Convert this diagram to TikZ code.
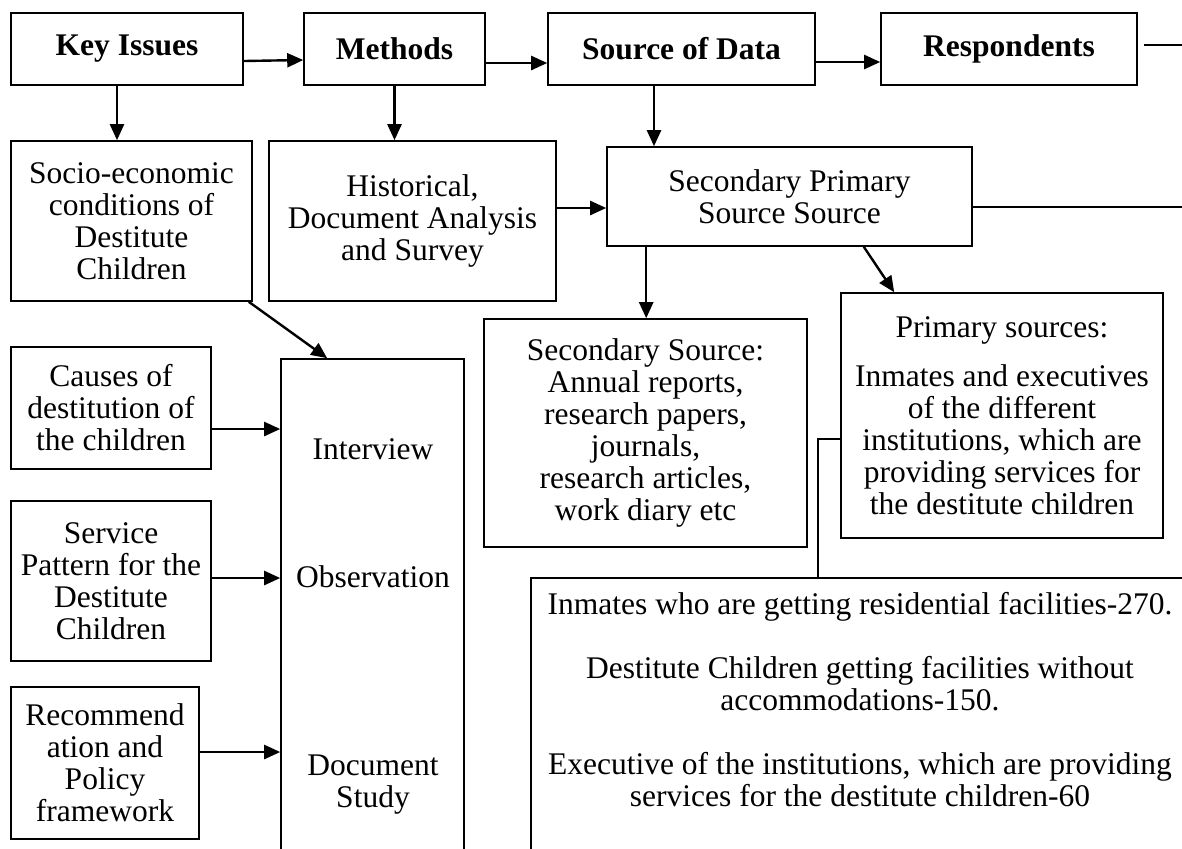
\documentclass[tikz,border=0pt]{standalone}
\usepackage{fontspec}
\setmainfont{Liberation Serif}
\usetikzlibrary{arrows.meta}

\begin{document}
\begin{tikzpicture}[
    x=0.5pt, y=-0.5pt,
    >={Triangle[length=8pt,width=7pt]},
    every node/.style={font=\fontsize{15.75pt}{16pt}\selectfont},
    box/.style={draw, line width=0.8pt, rectangle, align=center, inner sep=2pt},
    head/.style={box, minimum height=36pt, font=\fontsize{15.75pt}{16pt}\selectfont\bfseries},
    link/.style={->, line width=1.2pt},
    plain/.style={line width=0.8pt},
]
\useasboundingbox (0,0) rectangle (1182,848);

% Top row
\node[head, minimum width=116pt] (keyiss) at (127,49) {Key Issues};
\node[head, minimum width=90.5pt] (methods) at (394.5,49) {Methods};
\node[head, minimum width=133.5pt] (source) at (681.5,49) {Source of Data};
\node[head, minimum width=128pt] (resp) at (1009,49) {Respondents};

% Second row
\node[box, minimum width=120.5pt, minimum height=80pt] (socio) at (131.5,221) {Socio-economic\\conditions of\\Destitute\\Children};
\node[box, minimum width=143.5pt, minimum height=80pt] (hist) at (412.5,221) {Historical,\\Document Analysis\\and Survey};
\node[box, minimum width=182.5pt, minimum height=49.5pt] (secpri) at (789.5,196.5) {Secondary Primary\\Source Source};

% Sources
\node[box, minimum width=161.5pt, minimum height=114pt] (secsrc) at (645.5,433) {Secondary Source:\\Annual reports,\\research papers,\\journals,\\research articles,\\work diary etc};
\node[box, minimum width=161pt, minimum height=122.5pt] (prim) at (1002,415.5) {Primary sources:\\[8.5pt]Inmates and executives\\of the different\\institutions, which are\\providing services for\\the destitute children};

% Tools column
\node[box, minimum width=91.5pt, minimum height=261pt] (tools) at (372.5,620) {};
\node (intv) at (373,449) {Interview};
\node (obsv) at (373,577) {Observation};
\node[align=center] (docst) at (373,785) {Document\\Study};

% Objectives
\node[box, minimum width=100pt, minimum height=61pt] (causes) at (111,408) {Causes of\\destitution of\\the children};
\node[box, minimum width=100pt, minimum height=80pt] (service) at (111,581) {Service\\Pattern for the\\Destitute\\Children};
\node[box, minimum width=94pt, minimum height=76pt] (recom) at (105,763) {Recommend\\ation and\\Policy\\framework};

% Respondent numbers
\node[box, minimum width=329pt, minimum height=152pt] (sample) at (860,730) {};
\node[align=center, inner sep=0pt, anchor=north] (sampletxt) at ([yshift=-7.5pt]sample.north) {Inmates who are getting residential facilities-270.\\[16pt]Destitute Children getting facilities without\\accommodations-150.\\[16pt]Executive of the institutions, which are providing\\services for the destitute children-60};

% Free ends at the right edge
\coordinate (respend) at (1190,45);
\coordinate (secend) at (1190,207);

% Arrows
\draw[link] ([yshift=-6pt]keyiss.east) -- ([yshift=-5.5pt]methods.west);
\draw[link] ([yshift=-7pt]methods.east) -- ([yshift=-7pt]source.west);
\draw[link] ([yshift=-6.5pt]source.east) -- ([yshift=-6.5pt]resp.west);
\draw[plain] ([xshift=3pt,yshift=2pt]resp.east) -- (respend);
\draw[link] ([xshift=-5pt]keyiss.south) -- ([xshift=-5pt]keyiss.south |- socio.north);
\draw[link] (methods.south) -- (methods.south |- hist.north);
\draw[link] ([xshift=-13.75pt]source.south) -- ([xshift=-13.75pt]source.south |- secpri.north);
\draw[link] ([yshift=6.5pt]hist.east) -- ([yshift=6.5pt]hist.east -| secpri.west);
\draw[plain] ([yshift=-5.25pt]secpri.east) -- (secend);
\draw[link] ([xshift=20pt]secpri.south west) -- ([xshift=20pt]secpri.south west |- secsrc.north);
\draw[link] ([xshift=-54.5pt]secpri.south east) -- ([xshift=27pt]prim.north west);
\draw[plain] ([yshift=-11.75pt]prim.west) -| ([xshift=144pt]sample.north west);
\draw[link] ([xshift=-2pt]socio.south east) -- ([xshift=23.5pt]tools.north west);
\draw[link] ([yshift=-10.5pt]causes.east) -- ([yshift=-10.5pt]causes.east -| tools.west);
\draw[link] ([yshift=1.5pt]service.east) -- ([yshift=1.5pt]service.east -| tools.west);
\draw[link] ([yshift=5.5pt]recom.east) -- ([yshift=5.5pt]recom.east -| tools.west);

\end{tikzpicture}
\end{document}
